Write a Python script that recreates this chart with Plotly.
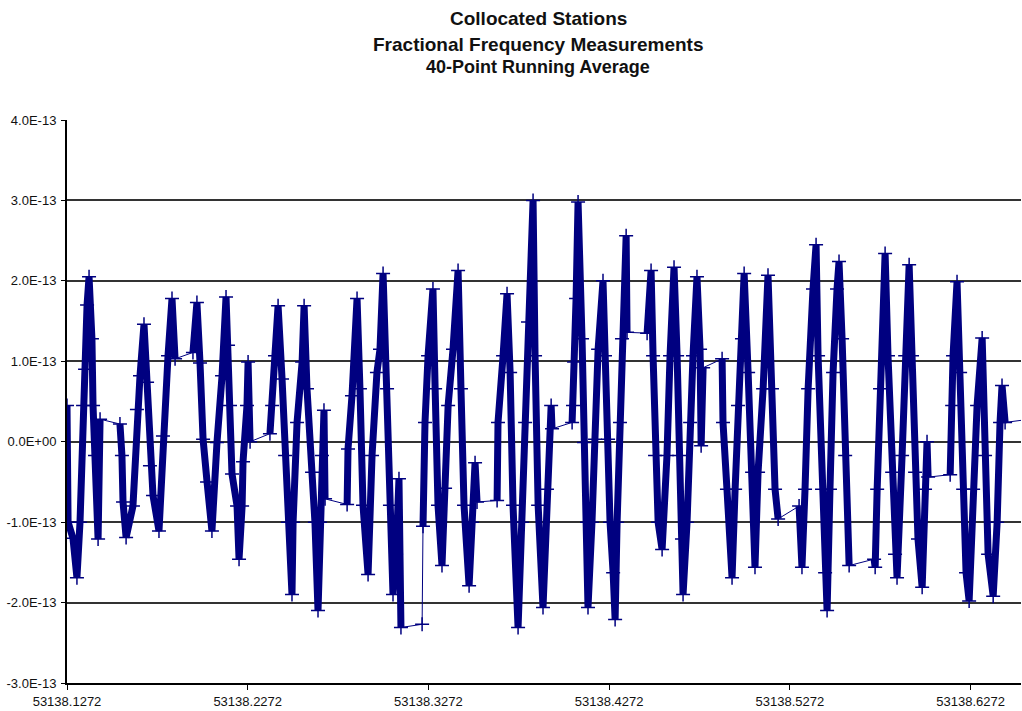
import plotly.graph_objects as go

# ---- data ----
# time stamps (MJD) of the traced vertices of the 40-point running average
mjd = [
    # segment A
    53138.1272, 53138.1278, 53138.1305, 53138.1327, 53138.1344, 53138.1361, 53138.1372,
    53138.1383, 53138.1394, 53138.1410, 53138.1416, 53138.1427, 53138.1444, 53138.1455,
    # segment B
    53138.1565, 53138.1576, 53138.1582, 53138.1599, 53138.1637, 53138.1659, 53138.1676,
    53138.1698, 53138.1715, 53138.1731, 53138.1748, 53138.1781, 53138.1803, 53138.1831,
    53138.1853, 53138.1870,
    # segment C
    53138.1969, 53138.1991, 53138.2008, 53138.2025, 53138.2047, 53138.2074, 53138.2102,
    53138.2130, 53138.2152, 53138.2163, 53138.2174, 53138.2185, 53138.2213, 53138.2224,
    53138.2241, 53138.2246, 53138.2268, 53138.2274, 53138.2285,
    # segment D
    53138.2395, 53138.2407, 53138.2423, 53138.2440, 53138.2462, 53138.2479, 53138.2495,
    53138.2517, 53138.2523, 53138.2545, 53138.2573, 53138.2584, 53138.2600, 53138.2628,
    53138.2644, 53138.2661, 53138.2672, 53138.2683, 53138.2694, 53138.2700,
    # segment E
    53138.2822, 53138.2827, 53138.2849, 53138.2877, 53138.2893, 53138.2910, 53138.2938,
    53138.2960, 53138.2987, 53138.3004, 53138.3021, 53138.3043, 53138.3059, 53138.3076,
    53138.3093, 53138.3109, 53138.3120,
    # isolated point
    53138.3237,
    # segment F
    53138.3242, 53138.3253, 53138.3270, 53138.3297, 53138.3309, 53138.3325, 53138.3347,
    53138.3364, 53138.3381, 53138.3408, 53138.3436, 53138.3452, 53138.3469, 53138.3497,
    53138.3513, 53138.3530, 53138.3541,
    # segment G
    53138.3652, 53138.3657, 53138.3685, 53138.3707, 53138.3724, 53138.3740, 53138.3768,
    53138.3790, 53138.3807, 53138.3823, 53138.3851, 53138.3862, 53138.3879, 53138.3906,
    53138.3928, 53138.3951, 53138.3956,
    # segment H
    53138.4067, 53138.4072, 53138.4078, 53138.4089, 53138.4100, 53138.4122, 53138.4133,
    53138.4150, 53138.4155, 53138.4177, 53138.4194, 53138.4211, 53138.4238, 53138.4249,
    53138.4266, 53138.4277, 53138.4294, 53138.4305, 53138.4316, 53138.4332, 53138.4343,
    53138.4366, 53138.4371,
    # segment I
    53138.4482, 53138.4504, 53138.4515, 53138.4526, 53138.4543, 53138.4565, 53138.4592,
    53138.4609, 53138.4631, 53138.4648, 53138.4659, 53138.4675, 53138.4681, 53138.4703,
    53138.4720, 53138.4736, 53138.4758, 53138.4775, 53138.4781, 53138.4792,
    # segment J
    53138.4897, 53138.4902, 53138.4924, 53138.4952, 53138.4969, 53138.4985, 53138.5007,
    53138.5019, 53138.5041, 53138.5063, 53138.5079, 53138.5096, 53138.5124, 53138.5151,
    53138.5173, 53138.5190, 53138.5207,
    # segment K
    53138.5323, 53138.5339, 53138.5356, 53138.5373, 53138.5400, 53138.5417, 53138.5428,
    53138.5450, 53138.5467, 53138.5478, 53138.5494, 53138.5511, 53138.5533, 53138.5544,
    53138.5561, 53138.5578, 53138.5600,
    # segment L
    53138.5738, 53138.5744, 53138.5755, 53138.5771, 53138.5799, 53138.5815, 53138.5838,
    53138.5854, 53138.5865, 53138.5893, 53138.5910, 53138.5932, 53138.5948, 53138.5965,
    53138.5981, 53138.6004, 53138.6020, 53138.6031, 53138.6037,
    # segment M
    53138.6159, 53138.6170, 53138.6175, 53138.6197, 53138.6214, 53138.6231, 53138.6247,
    53138.6264, 53138.6286, 53138.6308, 53138.6336, 53138.6352, 53138.6369, 53138.6397,
    53138.6419, 53138.6435, 53138.6446, 53138.6463,
    # segment N
    53138.6601,
]

# fractional frequency, in units of 1e-13
frac_e13 = [
    # A
    0.45, -1.0, -1.2, -1.69, -1.0, 0.45, 0.9, 1.7, 2.05, 1.28, 0.45, -0.17, -1.21, 0.28,
    # B
    0.22, -0.17, -0.75, -1.19, -0.8, 0.4, 0.82, 1.46, 0.74, -0.3, -0.67, -1.11, 0.07, 1.07,
    1.78, 1.03,
    # C
    1.11, 1.73, 0.98, 0.03, -0.5, -1.11, -0.01, 0.82, 1.80, 1.2, 0.45, -0.4, -0.8, -1.46,
    -0.8, -0.25, 0.45, 0.99, 0.0,
    # D
    0.1, 0.45, 1.07, 1.69, 0.78, -0.17, -1.0, -1.90, -1.0, 0.24, 0.99, 1.69, 0.66, -0.38,
    -1.0, -2.10, -1.0, -0.17, 0.39, -0.71,
    # E
    -0.78, -0.09, 0.57, 1.78, 0.66, -0.79, -1.65, -0.17, 0.86, 1.15, 2.09, 0.66, -0.79,
    -1.90, -1.4, -0.46, -2.31,
    # isolated
    -2.27,
    # F
    -1.05, 0.24, 1.07, 1.90, 0.66, -0.79, -1.54, -0.58, 0.45, 1.15, 2.13, 0.66, -0.79,
    -1.79, -1.0, -0.26, -0.75,
    # G
    -0.73, 0.24, 1.07, 1.84, 0.86, -0.79, -2.31, -1.0, 0.24, 1.49, 3.0, 1.07, -0.79, -2.06,
    -0.59, 0.45, 0.16,
    # H
    0.24, 0.45, 0.99, 1.78, 2.98, 1.28, -0.01, -1.0, -2.06, -1.0, 0.03, 1.15, 2.0, 1.07,
    0.03, -1.0, -1.63, -2.21, -1.0, 0.24, 1.28, 2.56, 1.36,
    # I
    1.35, 2.13, 1.07, -0.17, -1.0, -1.34, -0.17, 1.07, 2.17, 1.07, -0.17, -1.21, -1.90,
    -1.0, 0.24, 1.07, 2.05, 1.15, -0.05, 0.92,
    # J
    1.03, 0.24, -0.59, -1.69, -0.59, 0.45, 1.28, 2.09, 0.86, -0.38, -1.56, -0.38, 0.66,
    2.07, 0.66, -0.59, -0.96,
    # K
    -0.80, -1.56, -0.59, 0.66, 1.90, 2.45, 1.07, -0.59, -1.63, -2.10, -0.59, 0.86, 1.90,
    2.24, 1.28, -0.17, -1.54,
    # L
    -1.46, -1.56, -0.59, 0.66, 2.34, 1.07, -0.38, -1.4, -1.69, -0.17, 1.07, 2.20, 1.07,
    -0.38, -1.21, -1.81, -0.59, 0.0, -0.44,
    # M
    -0.41, 0.45, 1.07, 1.99, 0.86, -0.59, -1.63, -1.98, -0.59, 0.45, 1.29, -0.17, -1.4,
    -1.92, -1.0, 0.24, 0.70, 0.24,
    # N
    0.28,
]

# number of consecutive vertices in each continuous run of measurements
segment_lengths = [14, 16, 19, 20, 17, 1, 17, 17, 23, 20, 17, 17, 19, 18, 1]

x_tick_values = [53138.1272, 53138.2272, 53138.3272, 53138.4272, 53138.5272, 53138.6272]
x_tick_labels = ["53138.1272", "53138.2272", "53138.3272", "53138.4272", "53138.5272", "53138.6272"]
y_tick_values_e13 = [4, 3, 2, 1, 0, -1, -2, -3]
y_tick_labels = ["4.0E-13", "3.0E-13", "2.0E-13", "1.0E-13", "0.0E+00", "-1.0E-13", "-2.0E-13", "-3.0E-13"]

SCALE = 1e-13
assert len(mjd) == len(frac_e13) == sum(segment_lengths)

frac = [v * SCALE for v in frac_e13]

# thick trace: the dense runs of measurements, broken at gaps
thick_x, thick_y = [], []
i = 0
for n in segment_lengths:
    thick_x += mjd[i:i + n] + [None]
    thick_y += frac[i:i + n] + [None]
    i += n

NAVY = "#000080"
FONT = "Arial, Liberation Sans, sans-serif"
fig = go.Figure()
fig.add_trace(go.Scatter(x=mjd, y=frac, mode="lines",
                         line=dict(color=NAVY, width=1), hoverinfo="skip"))
fig.add_trace(go.Scatter(x=thick_x, y=thick_y, mode="lines+markers",
                         line=dict(color=NAVY, width=7),
                         marker=dict(symbol="cross-thin", size=10, color=NAVY,
                                     line=dict(color=NAVY, width=1.5)),
                         connectgaps=False))

fig.update_layout(
    width=1022, height=711,
    margin=dict(l=67, r=1, t=120, b=28),
    paper_bgcolor="white", plot_bgcolor="white",
    showlegend=False,
    font=dict(family=FONT, color="#111111"),
)
fig.update_xaxes(
    range=[53138.1272, 53138.6551],
    tickmode="array", tickvals=x_tick_values, ticktext=x_tick_labels,
    showgrid=False, zeroline=False,
    showline=True, linecolor="black", linewidth=2,
    ticks="outside", ticklen=5, tickcolor="black", tickwidth=1,
    tickfont=dict(size=13, color="#111111"),
    automargin=False,
)
fig.update_yaxes(
    range=[-3 * SCALE, 4 * SCALE],
    tickmode="array", tickvals=[v * SCALE for v in y_tick_values_e13], ticktext=y_tick_labels,
    showgrid=True, gridcolor="#333333", gridwidth=1.6, zeroline=False,
    showline=True, linecolor="black", linewidth=2,
    ticks="outside", ticklen=4, tickcolor="black", tickwidth=1,
    tickfont=dict(size=13, color="#111111"),
    ticklabelstandoff=2,
    automargin=False,
)

titles = [("Collocated Stations", 19, 18),
          ("Fractional Frequency Measurements", 19, 44),
          ("40-Point Running Average", 18, 67)]
for text, size, py in titles:
    fig.add_annotation(
        text="<b>%s</b>" % text, xref="paper", yref="paper",
        x=(538 - 67) / 954, y=(683 - py) / 563, xanchor="center", yanchor="middle",
        showarrow=False, font=dict(size=size, color="#111111", family=FONT),
    )

# remove the default page margin so the figure fills the window exactly
fig.write_html(
    "out.html",
    config={"displayModeBar": False},
    post_script="document.body.style.margin='0';"
                "document.documentElement.style.overflow='hidden';"
                "document.body.style.overflow='hidden';",
)
